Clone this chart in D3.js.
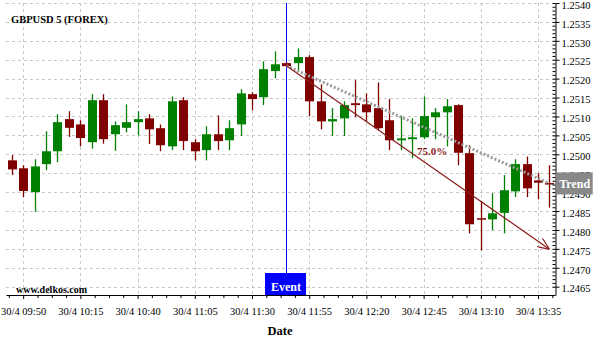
<!DOCTYPE html>
<html>
<head>
<meta charset="utf-8">
<script src="https://d3js.org/d3.v7.min.js"></script>
<style>
  body { margin: 0; background: #fff; }
  text { font-family: "Liberation Serif", "Times New Roman", serif; }
</style>
</head>
<body>
<div id="chart"></div>
<script>

// candle data, 5 minute bars on 30/4
var times = ["09:45","09:50","09:55","10:00","10:05","10:10","10:15","10:20","10:25","10:30",
             "10:35","10:40","10:45","10:50","10:55","11:00","11:05","11:10","11:15","11:20",
             "11:25","11:30","11:35","11:40","11:45","11:50","11:55","12:00","12:05","12:10",
             "12:15","12:20","12:25","12:30","12:35","12:40","12:45","12:50","12:55","13:00",
             "13:05","13:10","13:15","13:20","13:25","13:30","13:35","13:40"];
var open  = [1.24984,1.24963,1.24900,1.24974,1.25008,1.25093,1.25079,1.25032,1.25143,1.25053,
             1.25070,1.25085,1.25095,1.25069,1.25021,1.25143,1.25032,1.25011,1.25053,1.25037,
             1.25079,1.25159,1.25151,1.25220,1.25241,1.25241,1.25257,1.25140,1.25087,1.25095,
             1.25135,1.25132,1.25122,1.25090,1.25037,1.25040,1.25045,1.25098,1.25111,1.25130,
             1.25003,1.24831,1.24828,1.24845,1.24902,1.24974,1.24931,1.24924];
var high  = [1.24998,1.24971,1.24987,1.25061,1.25106,1.25114,1.25090,1.25159,1.25159,1.25087,
             1.25132,1.25114,1.25106,1.25079,1.25153,1.25151,1.25040,1.25074,1.25103,1.25090,
             1.25172,1.25164,1.25246,1.25272,1.25243,1.25280,1.25262,1.25185,1.25122,1.25140,
             1.25196,1.25161,1.25190,1.25146,1.25101,1.25095,1.25153,1.25122,1.25146,1.25132,
             1.25024,1.24877,1.24897,1.24945,1.24987,1.24994,1.24950,1.24971];
var low   = [1.24945,1.24887,1.24848,1.24958,1.24979,1.25046,1.25021,1.25015,1.25028,1.25009,
             1.25058,1.25050,1.25027,1.25008,1.25011,1.25011,1.24984,1.24984,1.25011,1.25011,
             1.25048,1.25116,1.25130,1.25201,1.25231,1.25222,1.25101,1.25066,1.25048,1.25048,
             1.25098,1.25087,1.25064,1.25011,1.25011,1.24990,1.25040,1.25040,1.25021,1.24971,
             1.24791,1.24746,1.24799,1.24791,1.24887,1.24887,1.24881,1.24859];
var close = [1.24960,1.24903,1.24968,1.25008,1.25085,1.25070,1.25043,1.25143,1.25040,1.25077,
             1.25085,1.25093,1.25066,1.25024,1.25140,1.25035,1.25008,1.25053,1.25035,1.25069,
             1.25161,1.25146,1.25225,1.25238,1.25233,1.25257,1.25140,1.25087,1.25093,1.25130,
             1.25130,1.25111,1.25069,1.25037,1.25042,1.25045,1.25101,1.25111,1.25127,1.25004,
             1.24815,1.24828,1.24844,1.24905,1.24974,1.24910,1.24925,1.24921];

// annotations
var eventTime = "11:45";
var trendLine = [["11:45", 1.25234], ["13:40", 1.24749]];
var grayLine  = [["11:45", 1.25234], ["13:40", 1.24923]];
var pctLabel = "75.0%";

var width = 600, height = 340;
var pLeft = 6, pRight = 555.2, pTop = 3, pBottom = 295;

var parse = function(s) {
  var p = s.split(":");
  return new Date(2014, 3, 30, +p[0], +p[1]);
};

var data = times.map(function(t, i) {
  return { date: parse(t), o: open[i], h: high[i], l: low[i], c: close[i] };
});

var svg = d3.select("#chart")
  .append("svg")
    .attr("width", width)
    .attr("height", height);

var x = d3.scaleTime()
  .domain([new Date(2014, 3, 30, 9, 42, 30), new Date(2014, 3, 30, 13, 42, 30)])
  .range([pLeft, pRight]);

var y = d3.scaleLinear()
  .domain([1.24628, 1.25400])
  .range([pBottom, pTop]);

// tick values
var xMajor = d3.range(0, 10).map(function(i) { return new Date(2014, 3, 30, 9, 50 + i * 25); });
var xMinor = [];
for (var k = -1; k < 10; k++) {
  for (var j = 1; j < 4; j++) {
    var d = new Date(2014, 3, 30, 9, 50 + k * 25, j * 6.25 * 60);
    if (x(d) > pLeft && x(d) < pRight) xMinor.push(d);
  }
}
var yMajor = d3.range(0, 16).map(function(i) { return +(1.2465 + i * 0.0005).toFixed(4); });
var yMinor = d3.range(0, 76).map(function(i) { return +(1.2465 + i * 0.0001).toFixed(4); });

// grid
svg.append("g").selectAll("line").data(yMajor).enter().append("line")
  .attr("x1", pLeft).attr("x2", pRight)
  .attr("y1", function(d) { return Math.round(y(d)) + 0.5; })
  .attr("y2", function(d) { return Math.round(y(d)) + 0.5; })
  .attr("stroke", "#c8c8c8").attr("stroke-dasharray", "3,3");
svg.append("g").selectAll("line").data(xMajor).enter().append("line")
  .attr("y1", pTop).attr("y2", pBottom)
  .attr("x1", function(d) { return Math.round(x(d)) + 0.5; })
  .attr("x2", function(d) { return Math.round(x(d)) + 0.5; })
  .attr("stroke", "#c8c8c8").attr("stroke-dasharray", "3,3");

// event line
svg.append("line")
  .attr("x1", Math.round(x(parse(eventTime))) + 0.5)
  .attr("x2", Math.round(x(parse(eventTime))) + 0.5)
  .attr("y1", pTop).attr("y2", pBottom)
  .attr("stroke", "#0000ff");

// candles
var up = "#008000", down = "#800000";
var candle = svg.append("g").selectAll("g").data(data).enter().append("g");
candle.append("line")
  .attr("x1", function(d) { return Math.round(x(d.date)) + 0.5; })
  .attr("x2", function(d) { return Math.round(x(d.date)) + 0.5; })
  .attr("y1", function(d) { return y(d.h); })
  .attr("y2", function(d) { return y(d.l); })
  .attr("stroke", function(d) { return d.c >= d.o ? up : down; })
  .attr("stroke-width", 1.3);
candle.append("rect")
  .attr("x", function(d) { return Math.round(x(d.date)) - 4; })
  .attr("width", 9)
  .attr("y", function(d) { return y(Math.max(d.o, d.c)); })
  .attr("height", function(d) { return Math.max(1.5, Math.abs(y(d.o) - y(d.c))); })
  .attr("fill", function(d) { return d.c >= d.o ? up : down; });

// trend lines
var lineGen = d3.line()
  .x(function(d) { return x(parse(d[0])); })
  .y(function(d) { return y(d[1]); });

svg.append("defs").append("marker")
  .attr("id", "arrow")
  .attr("markerUnits", "userSpaceOnUse")
  .attr("viewBox", "0 0 12 10")
  .attr("refX", 12).attr("refY", 5)
  .attr("markerWidth", 12).attr("markerHeight", 10)
  .attr("orient", "auto")
  .append("path")
    .attr("d", "M0,0 L12,5 L0,10")
    .attr("fill", "none")
    .attr("stroke", "#8b1c1c")
    .attr("stroke-width", 1.2);

svg.append("path")
  .datum(grayLine)
  .attr("d", lineGen)
  .attr("fill", "none")
  .attr("stroke", "#9a9a9a")
  .attr("stroke-width", 3)
  .attr("stroke-dasharray", "2,2");

svg.append("path")
  .datum(trendLine)
  .attr("d", lineGen)
  .attr("fill", "none")
  .attr("stroke", "#8b1c1c")
  .attr("stroke-width", 1.2)
  .attr("marker-end", "url(#arrow)");

svg.append("text")
  .attr("x", x(parse("12:50")) - 3)
  .attr("y", y(1.24998))
  .attr("text-anchor", "middle")
  .attr("font-weight", "bold")
  .attr("font-size", "11px")
  .attr("fill", "#8b1c1c")
  .text(pctLabel);

// x axis
svg.append("g")
  .attr("transform", "translate(0," + pBottom + ")")
  .call(d3.axisBottom(x).tickValues(xMinor).tickFormat("").tickSize(3).tickSizeOuter(0))
  .call(function(g) { g.select(".domain").remove(); });
var xAxis = svg.append("g")
  .attr("transform", "translate(0," + pBottom + ")")
  .call(d3.axisBottom(x).tickValues(xMajor).tickFormat(d3.timeFormat("%-d/%-m %H:%M"))
        .tickSize(4).tickSizeOuter(0).tickPadding(9));
xAxis.selectAll("text")
  .attr("font-family", "Liberation Serif")
  .attr("font-size", "10.5px")
  .attr("fill", "#000");

// right axis
svg.append("g")
  .attr("transform", "translate(" + (pRight + 0.3) + ",0)")
  .call(d3.axisLeft(y).tickValues(yMinor).tickFormat("").tickSize(3).tickSizeOuter(0))
  .call(function(g) { g.select(".domain").remove(); });
var yAxis = svg.append("g")
  .attr("transform", "translate(" + (pRight + 0.3) + ",0)")
  .call(d3.axisRight(y).tickValues(yMajor).tickFormat(d3.format(".4f"))
        .tickSize(4).tickSizeOuter(0).tickPadding(2));
yAxis.selectAll("text")
  .attr("font-family", "Liberation Serif")
  .attr("font-size", "10.5px")
  .attr("dy", "0.5em")
  .attr("fill", "#000");

// labels
svg.append("text")
  .attr("x", 11).attr("y", 23)
  .attr("font-weight", "bold").attr("font-size", "10.5px")
  .text("GBPUSD 5 (FOREX)");

svg.append("text")
  .attr("x", 16).attr("y", 293)
  .attr("font-weight", "bold").attr("font-size", "10px")
  .text("www.delkos.com");

svg.append("text")
  .attr("x", 280).attr("y", 335)
  .attr("text-anchor", "middle")
  .attr("font-weight", "bold").attr("font-size", "12.5px")
  .text("Date");

// event box
var ex = Math.round(x(parse(eventTime)));
svg.append("rect")
  .attr("x", ex - 21).attr("y", 273)
  .attr("width", 41).attr("height", pBottom - 273)
  .attr("fill", "#0000ff");
svg.append("text")
  .attr("x", ex).attr("y", 291)
  .attr("text-anchor", "middle")
  .attr("fill", "#fff")
  .attr("font-weight", "bold").attr("font-size", "12px")
  .text("Event");

// trend value box
var ty = y(grayLine[1][1]);
svg.append("rect")
  .attr("x", pRight + 0.5).attr("y", ty - 11)
  .attr("width", 37).attr("height", 22)
  .attr("fill", "#888888");
svg.append("text")
  .attr("x", pRight + 19.5).attr("y", ty + 5)
  .attr("text-anchor", "middle")
  .attr("fill", "#fff")
  .attr("font-weight", "bold").attr("font-size", "12px")
  .text("Trend");

</script>
</body>
</html>
